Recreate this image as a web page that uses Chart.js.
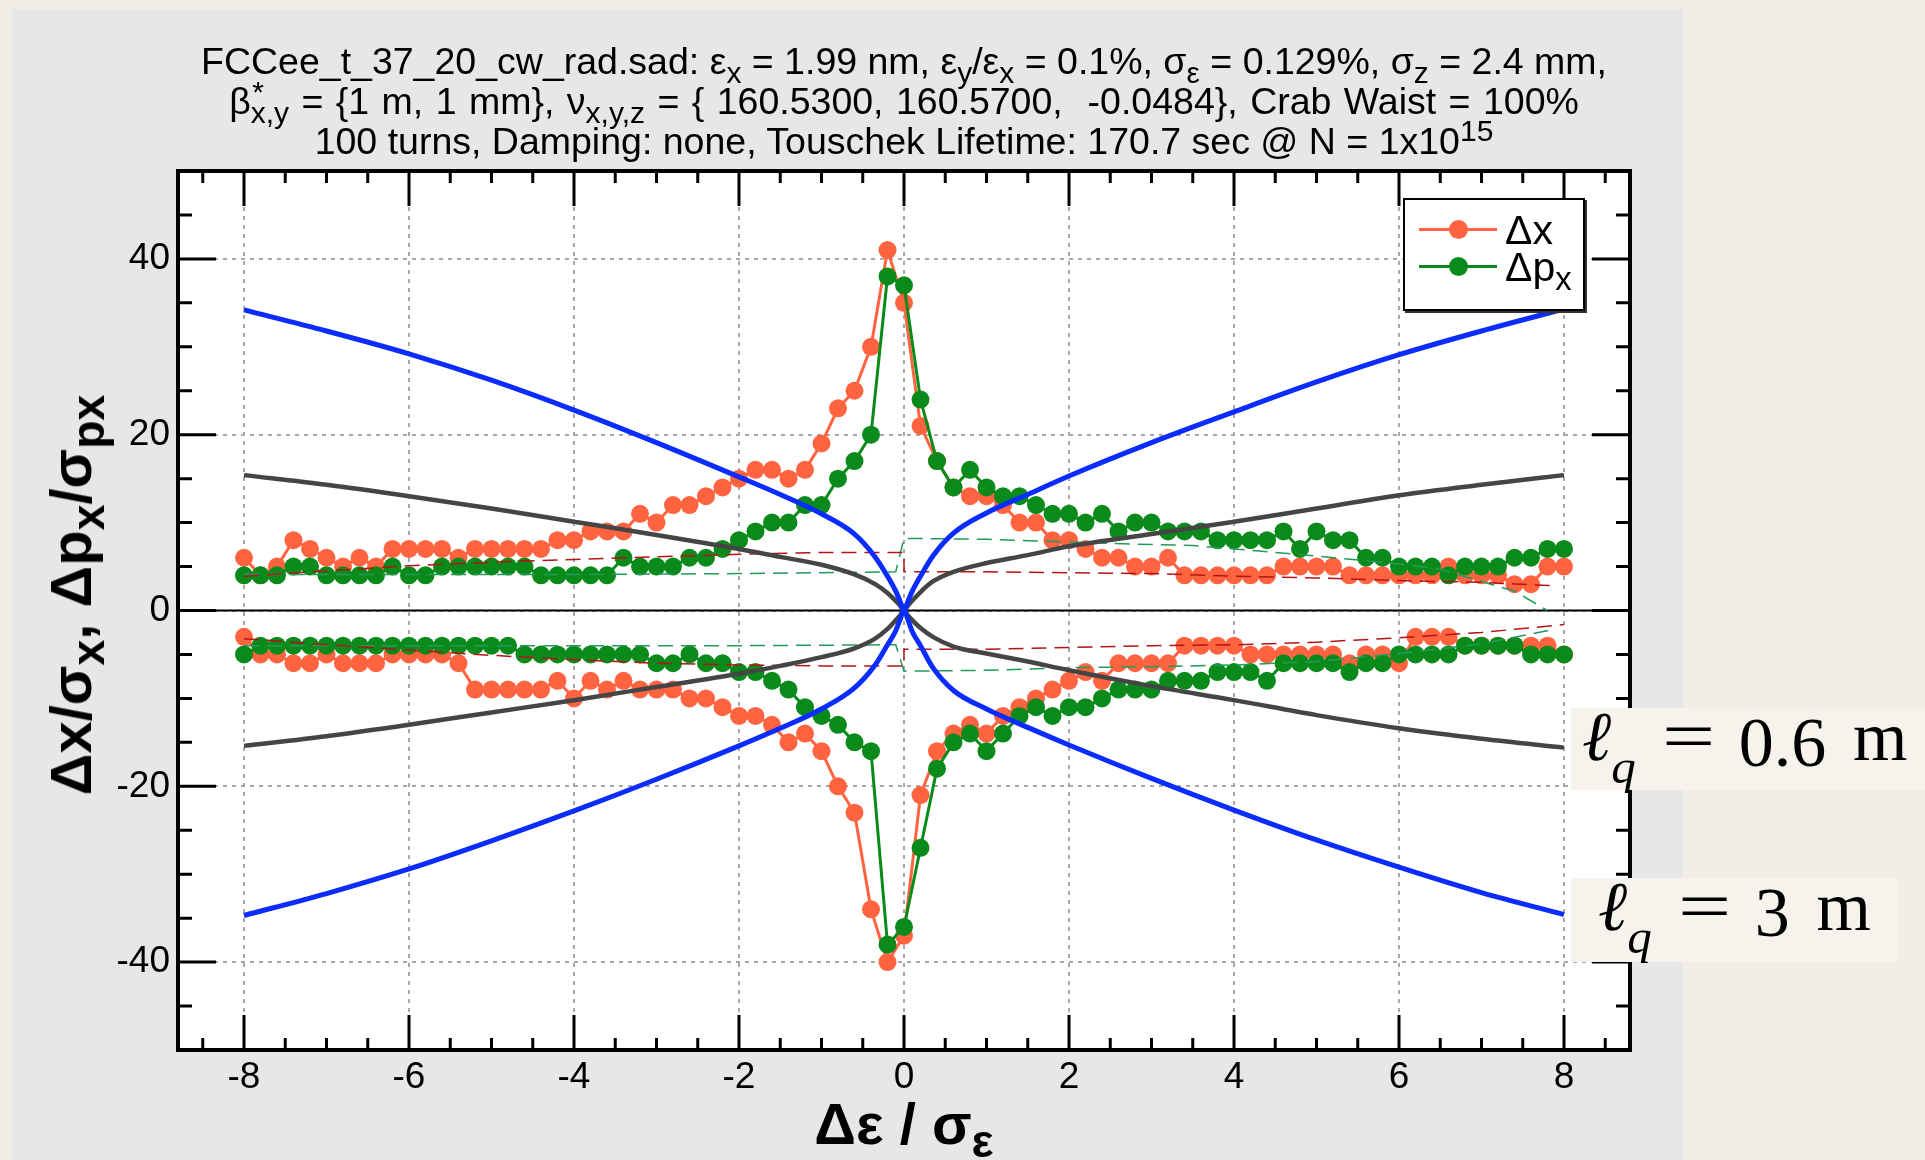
<!DOCTYPE html>
<html>
<head>
<meta charset="utf-8">
<script src="https://cdn.jsdelivr.net/npm/chart.js@4.4.1/dist/chart.umd.min.js"></script>
<style>
  html, body { margin: 0; padding: 0; }
  body { width: 1925px; height: 1160px; background: #f1eee7; position: relative; overflow: hidden;
         font-family: "Liberation Sans", Arial, sans-serif; color: #000; }
  #panel { position: absolute; left: 12px; top: 9px; width: 1671px; height: 1151px; background: #e7e7e7; }
  #chart { position: absolute; left: 0; top: 0; }
  sub, sup { font-size: 0.8em; line-height: 0; }
  .title { position: absolute; left: 178px; width: 1452px; text-align: center; font-size: 37.5px;
           line-height: 40px; white-space: nowrap; }
  .bstar { position: relative; display: inline-block; }
  .bstar sup { position: absolute; left: 0.05em; top: 0.35em; }
  #xlabel { position: absolute; left: 178px; width: 1452px; top: 1094px; text-align: center;
            font-weight: bold; font-size: 58px; line-height: 60px; white-space: nowrap; }
  #ylabel { position: absolute; left: 71px; top: 595px; transform: translate(-50%, -50%) rotate(-90deg);
            font-weight: bold; font-size: 58px; line-height: 60px; white-space: nowrap; }
  #legend { position: absolute; left: 1403px; top: 198px; width: 178px; height: 109px; background: #fff;
            border: 2px solid #000; box-shadow: 2px 2px 0 #333; }
  #legend .row { position: absolute; left: 14px; height: 40px; font-size: 41px; line-height: 40px; }
  #legend .sw { position: absolute; left: 0; top: 18px; width: 78px; height: 3px; }
  #legend .sw i { position: absolute; left: 30px; top: -8px; width: 19px; height: 19px; border-radius: 50%; }
  #legend .txt { position: absolute; left: 86px; top: 0; white-space: nowrap; }
  .lq { position: absolute; background: #f5f3ec; font-family: "Liberation Serif", "DejaVu Serif", serif;
        font-size: 70px; line-height: 82px; white-space: nowrap; }
  .lq span { position: relative; top: -6px; }
  .lq .ell { font-style: italic; }
  .lq sub { font-style: italic; font-size: 0.7em; line-height: 0; position: relative; top: 0.05em; }
  .lq .eq { display: inline-block; transform: scaleX(1.35); margin: 0 0.44em 0 0.47em; }
  .lq .sp { margin-left: 0.38em; }
</style>
</head>
<body>
<div id="panel"></div>
<canvas id="chart" width="1925" height="1160"></canvas>

<div class="title" style="top:41px">FCCee_t_37_20_cw_rad.sad: ε<sub>x</sub> = 1.99 nm, ε<sub>y</sub>/ε<sub>x</sub> = 0.1%, σ<sub>ε</sub> = 0.129%, σ<sub>z</sub> = 2.4 mm,</div>
<div class="title" style="top:81px; word-spacing:2px">β<span class="bstar"><sup>*</sup><sub>x,y</sub></span> = {1 m, 1 mm}, ν<sub>x,y,z</sub> = { 160.5300, 160.5700, &nbsp;-0.0484}, Crab Waist = 100%</div>
<div class="title" style="top:121px">100 turns, Damping: none, Touschek Lifetime: 170.7 sec @ N = 1x10<sup>15</sup></div>

<div id="xlabel">Δε / σ<sub>ε</sub></div>
<div id="ylabel">Δx/σ<sub>x</sub>, Δp<sub>x</sub>/σ<sub>px</sub></div>

<div id="legend">
  <div class="row" style="top:10px"><span class="sw" style="background:#ff6340"><i style="background:#ff6340"></i></span><span class="txt">Δx</span></div>
  <div class="row" style="top:47px"><span class="sw" style="background:#0a8a1a"><i style="background:#0a8a1a"></i></span><span class="txt">Δp<sub>x</sub></span></div>
</div>

<div class="lq" style="left:1571px; top:708px; width:354px; height:82px;"><span style="left:11px"><span class="ell">ℓ</span><sub>q</sub><span class="eq">=</span>0.6<span class="sp">m</span></span></div>
<div class="lq" style="left:1571px; top:878px; width:326px; height:84px;"><span style="left:27px"><span class="ell">ℓ</span><sub>q</sub><span class="eq">=</span>3<span class="sp">m</span></span></div>

<script>
// energy offset samples (Δε/σε), every 0.2
const eps = [-8,-7.8,-7.6,-7.4,-7.2,-7,-6.8,-6.6,-6.4,-6.2,-6,-5.8,-5.6,-5.4,-5.2,-5,-4.8,-4.6,-4.4,-4.2,
  -4,-3.8,-3.6,-3.4,-3.2,-3,-2.8,-2.6,-2.4,-2.2,-2,-1.8,-1.6,-1.4,-1.2,-1,-0.8,-0.6,-0.4,-0.2,
  0,0.2,0.4,0.6,0.8,1,1.2,1.4,1.6,1.8,2,2.2,2.4,2.6,2.8,3,3.2,3.4,3.6,3.8,
  4,4.2,4.4,4.6,4.8,5,5.2,5.4,5.6,5.8,6,6.2,6.4,6.6,6.8,7,7.2,7.4,7.6,7.8,8];

// tracked amplitudes (upper / lower envelopes)
const dxUp = [6,4,5,8,7,6,5,6,5,7, 7,7,7,6,7,7,7,7,7,8, 8,9,9,9,11,10,12,12,13,14,
  15,16,16,15,16,19,23,25,30,41, 35,21,17,14,13,13,12,10,10,8, 8,7,6,6,5,5,6,4,4,4,
  4,4,4,5,5,5,5,4,4,4, 4,4,4,5,4,4,4,3,3,5, 5];
const dpxUp = [4,4,4,5,5,4,4,4,4,5, 4,4,5,5,5,5,5,5,4,4, 4,4,4,6,5,5,5,6,6,7,
  8,9,10,10,12,12,15,17,20,38, 37,24,17,14,16,14,13,13,12,11, 11,10,11,9,10,10,9,9,9,8,
  8,8,8,9,7,9,8,8,6,6, 5,5,5,4,5,5,5,6,6,7, 7];
const dxLo = [-3,-5,-5,-6,-6,-5,-6,-6,-6,-5, -5,-5,-5,-6,-9,-9,-9,-9,-9,-8, -10,-8,-9,-8,-9,-9,-9,-10,-10,-11,
  -12,-12,-13,-15,-14,-16,-20,-23,-34,-40, -37,-21,-16,-14,-13,-14,-12,-11,-10,-9, -8,-7,-8,-6,-6,-6,-6,-4,-4,-4,
  -4,-5,-5,-5,-5,-5,-5,-6,-5,-5, -6,-3,-3,-3,-4,-4,-4,-4,-4,-4, -5];
const dpxLo = [-5,-4,-4,-4,-4,-4,-4,-4,-4,-4, -4,-4,-4,-4,-4,-4,-4,-5,-5,-5, -5,-5,-5,-5,-5,-6,-6,-5,-6,-6,
  -7,-7,-8,-9,-11,-12,-13,-15,-16,-38, -36,-27,-18,-15,-14,-16,-14,-12,-11,-12, -11,-11,-10,-9,-9,-9,-8,-8,-8,-7,
  -7,-7,-8,-6,-6,-6,-6,-7,-6,-6, -5,-5,-5,-5,-4,-4,-4,-4,-5,-5, -5];

// thin dashed reference lines
const dxDashUpX = [-8,-7,-6,-5,-4,-3,-2,-1,0,0,1,2,3,4,5,6,7,7.9];
const dxDashUp  = [3.9,4.5,5.1,5.5,5.8,6.1,6.4,6.6,6.6,4.4,4.4,4.3,4.2,3.9,3.7,3.4,3.2,2.8];
const dpxDashUpX = [-8,-6,-4,-2,-0.1,0,1,2,3,3.5,4,5,6,6.5,7,7.4,7.8];
const dpxDashUp  = [4.1,4.1,4.1,4.2,4.4,8.2,8.1,7.8,7.5,7.4,7.0,6.2,5.3,4.7,3.3,2.2,0];
const dxDashLoX = [-8,-7,-6,-5,-4,-3,-2,-1,0,0,1,2,3,4,5,6,7,8];
const dxDashLo  = [-3.2,-3.9,-4.5,-5.1,-5.6,-6.0,-6.2,-6.3,-6.3,-4.4,-4.4,-4.2,-4.0,-3.9,-3.6,-3.1,-2.5,-1.6];
const dpxDashLoX = [-8,-6,-4,-2,-0.1,0,1,2,3,4,5,6,7,7.9];
const dpxDashLo  = [-4.0,-4.0,-4.0,-4.0,-3.9,-6.9,-6.8,-6.5,-6.4,-6.2,-5.8,-4.9,-3.8,-2.1];

// aperture curves for the two quadrupole lengths
const curveX = [-8,-7,-6,-5,-4,-3,-2,-1.5,-1,-0.6,-0.35,-0.2,-0.1,-0.05,0,0.05,0.1,0.2,0.35,0.6,1,1.5,2,3,4,5,6,7,8];
const lq3Up  = [34.2,31.8,29.2,26.2,22.8,19.1,15.2,13.2,11.0,8.7,6.1,3.9,2.2,1.1,0,1.1,2.2,3.9,6.2,8.8,11.1,13.2,15.3,19.1,22.6,26.0,29.1,31.8,34.3];
const lq3Lo  = [-34.7,-32.2,-29.4,-26.2,-22.8,-19.2,-15.4,-13.4,-11.2,-8.8,-6.2,-3.9,-2.3,-1.1,0,-1.1,-2.4,-4.0,-6.5,-9.1,-11.2,-13.3,-15.3,-19.1,-22.7,-26.1,-29.2,-32.1,-34.6];
const lq06Up = [15.4,14.3,13.0,11.6,10.1,8.6,7.0,6.1,5.2,4.1,3.0,2.0,1.1,0.6,0,0.6,1.1,2.1,3.3,4.4,5.4,6.3,7.3,8.7,10.1,11.6,13.1,14.3,15.4];
const lq06Lo = [-15.4,-14.3,-13.0,-11.6,-10.2,-8.7,-7.2,-6.3,-5.3,-4.3,-3.2,-2.1,-1.1,-0.6,0,-0.6,-1.1,-2.0,-3.0,-4.1,-4.9,-5.8,-6.8,-8.6,-10.2,-11.9,-13.4,-14.6,-15.6];

// axes
const xTicks = [-8,-6,-4,-2,0,2,4,6,8];
const xMinor = [-8.5,-7.5,-7,-6.5,-5.5,-5,-4.5,-3.5,-3,-2.5,-1.5,-1,-0.5,0.5,1,1.5,2.5,3,3.5,4.5,5,5.5,6.5,7,7.5,8.5];
const yTicks = [-40,-20,0,20,40];
const yMinor = [-45,-35,-30,-25,-15,-10,-5,5,10,15,25,30,35,45];

const pts = (xs, ys) => xs.map((x, i) => ({ x, y: ys[i] }));

const ORANGE = '#ff6340', GREEN = '#0a8a1a';

function trackSet(ys, color, order) {
  return { data: pts(eps, ys), borderColor: color, backgroundColor: color, borderWidth: 3,
           pointRadius: 9, pointBorderWidth: 0, pointHoverRadius: 9, tension: 0, order };
}
function dashSet(xs, ys, color) {
  return { data: pts(xs, ys), borderColor: color, borderWidth: 1.5, borderDash: [15, 8],
           pointRadius: 0, tension: 0, order: 2 };
}
function curveSet(ys, color, width, order) {
  return { data: pts(curveX, ys), borderColor: color, borderWidth: width, pointRadius: 0,
           cubicInterpolationMode: 'monotone', order };
}

const frame = {
  id: 'frame',
  beforeDraw(c) {
    const { ctx, chartArea: a } = c;
    ctx.save();
    ctx.fillStyle = '#fff';
    ctx.fillRect(a.left, a.top, a.width, a.height);
    ctx.restore();
  },
  beforeDatasetsDraw(c) {
    const { ctx, chartArea: a, scales: { y } } = c;
    const y0 = y.getPixelForValue(0);
    ctx.save();
    ctx.strokeStyle = '#000';
    ctx.lineWidth = 2;
    ctx.beginPath(); ctx.moveTo(a.left, y0); ctx.lineTo(a.right, y0); ctx.stroke();
    ctx.restore();
  },
  afterDraw(c) {
    const { ctx, chartArea: a, scales: { x, y } } = c;
    ctx.save();
    ctx.strokeStyle = '#000';
    ctx.lineWidth = 3;
    ctx.beginPath();
    const vt = (vals, len) => vals.forEach(v => {
      const px = x.getPixelForValue(v);
      ctx.moveTo(px, a.bottom); ctx.lineTo(px, a.bottom - len);
      ctx.moveTo(px, a.top); ctx.lineTo(px, a.top + len);
    });
    const ht = (vals, len) => vals.forEach(v => {
      const py = y.getPixelForValue(v);
      ctx.moveTo(a.left, py); ctx.lineTo(a.left + len, py);
      ctx.moveTo(a.right, py); ctx.lineTo(a.right - len, py);
    });
    vt(xTicks, 35); vt(xMinor, 12);
    ht(yTicks, 38); ht(yMinor, 14);
    ctx.stroke();
    ctx.lineWidth = 4;
    ctx.strokeRect(a.left, a.top, a.width, a.height);
    ctx.restore();
  }
};

const tickFont = { family: '"Liberation Sans", Arial, sans-serif', size: 37 };

new Chart(document.getElementById('chart'), {
  type: 'line',
  data: {
    datasets: [
      curveSet(lq3Up, '#0a2cff', 5, 0),
      curveSet(lq3Lo, '#0a2cff', 5, 0),
      curveSet(lq06Up, '#454545', 4.5, 1),
      curveSet(lq06Lo, '#454545', 4.5, 1),
      dashSet(dxDashUpX, dxDashUp, '#b31515'),
      dashSet(dxDashLoX, dxDashLo, '#b31515'),
      dashSet(dpxDashUpX, dpxDashUp, '#239a5c'),
      dashSet(dpxDashLoX, dpxDashLo, '#239a5c'),
      trackSet(dpxUp, GREEN, 3),
      trackSet(dpxLo, GREEN, 3),
      trackSet(dxUp, ORANGE, 4),
      trackSet(dxLo, ORANGE, 4)
    ]
  },
  options: {
    responsive: false,
    animation: false,
    devicePixelRatio: 1,
    layout: { padding: { left: 118, right: 295, top: 171, bottom: 50 } },
    plugins: { legend: { display: false }, tooltip: { enabled: false } },
    scales: {
      x: {
        type: 'linear', min: -8.8, max: 8.8,
        afterBuildTicks: s => { s.ticks = xTicks.map(v => ({ value: v })); },
        afterFit: s => { s.height = 60; },
        ticks: { font: tickFont, color: '#000', padding: 6, maxRotation: 0, autoSkip: false },
        grid: { color: '#a8a8a8', lineWidth: 2, drawTicks: false },
        border: { display: false, dash: [4, 5] }
      },
      y: {
        type: 'linear', min: -50, max: 50,
        afterBuildTicks: s => { s.ticks = yTicks.map(v => ({ value: v })); },
        afterFit: s => { s.width = 60; },
        ticks: { font: tickFont, color: '#000', padding: 8, autoSkip: false },
        grid: { color: '#a8a8a8', lineWidth: 2, drawTicks: false },
        border: { display: false, dash: [4, 5] }
      }
    }
  },
  plugins: [frame]
});
</script>
</body>
</html>
